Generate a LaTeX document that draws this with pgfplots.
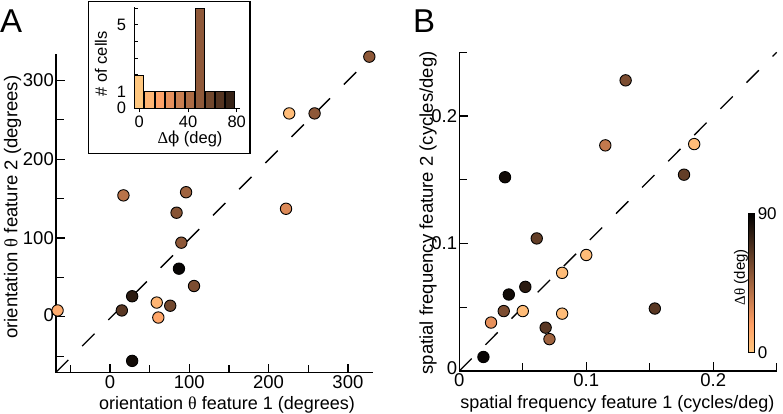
\documentclass[border=0pt]{standalone}
\usepackage{pgfplots}
\pgfplotsset{compat=1.18}
\usepackage{fontspec}
\setmainfont{Liberation Sans}
\newfontfamily\symf{Liberation Serif}
\newfontfamily\phif{DejaVu Serif}
\usetikzlibrary{calc}

\definecolor{b0}{rgb}{1,0.781,0.4975}
\definecolor{b1}{rgb}{1,0.709,0.452}
\definecolor{b2}{rgb}{1,0.637,0.406}
\definecolor{b3}{rgb}{0.904,0.565,0.360}
\definecolor{b4}{rgb}{0.789,0.493,0.314}
\definecolor{b5}{rgb}{0.674,0.421,0.268}
\definecolor{b6}{rgb}{0.559,0.349,0.222}
\definecolor{b7}{rgb}{0.4425,0.277,0.176}
\definecolor{b8}{rgb}{0.3275,0.205,0.130}
\definecolor{b9}{rgb}{0.2125,0.133,0.085}

\pgfplotsset{
  /pgf/number format/assume math mode=true,
  colormap={copperr}{rgb255(0cm)=(255,199,127); rgb255(2cm)=(255,159,101); rgb255(10cm)=(0,0,0)},
  mainstyle/.style={
    scale only axis,
    axis x line=bottom, axis y line=left,
    axis line style={-, line width=1.3pt},
    tick align=inside,
    major tick length=9pt, minor tick length=8pt,
    tick style={line width=1.2pt, black},
    tick label style={font=\fontsize{18.5}{20}\selectfont},
    yticklabel style={inner xsep=2pt},
    xticklabel style={inner ysep=0pt, yshift=-2.5pt},
    clip=false,
    point meta min=0, point meta max=90,
    colormap name=copperr,
  },
  pts/.style={scatter, only marks, mark=*, mark size=5.7pt, point meta=explicit,
    scatter/use mapped color={draw=black, fill=mapped color, line width=0.9pt}},
  diag/.style={black, line width=1.3pt, dash pattern=on 17.5pt off 19.5pt},
}

\pgfplotstableread{
x y c
327 330 50
226 258 5
258 258 50
17 154 38
96 158 45
84 132 52
222 137 28
90 94 50
87 61 88
106 39 55
28 26 78
59 18 8
76 14 58
15 8 65
-66 8 12
61 -1 15
28 -56 85
}\dataA

\pgfplotstableread{
x y c
0.131 0.228 55
0.115 0.177 35
0.185 0.178 5
0.177 0.154 62
0.036 0.152 85
0.061 0.104 62
0.100 0.091 5
0.081 0.077 5
0.052 0.066 78
0.039 0.060 85
0.035 0.047 55
0.050 0.047 5
0.081 0.045 5
0.154 0.049 65
0.025 0.038 25
0.068 0.034 65
0.071 0.025 45
0.019 0.011 88
}\dataB

\begin{document}
\begin{tikzpicture}
\path[use as bounding box] (0,0) rectangle (783pt,413pt);

% Panel A
\begin{axis}[mainstyle,
  at={(56pt,40.3pt)}, anchor=south west,
  width=317.3pt, height=318.4pt,
  xmin=-68, xmax=332, ymin=-71, ymax=333,
  xtick={0,100,200,300}, minor xtick={-50,50,150,250},
  ytick={0,100,200,300}, minor ytick={-50,50,150,250},
  yticklabels={\raisebox{3pt}{0},100,200,300},
  xlabel={orientation {\symf θ} feature 1 (degrees)},
  ylabel={orientation {\symf θ} feature 2 (degrees)},
  every axis x label/.style={at={(axis description cs:0.539,-0.114)}, anchor=base, inner sep=0pt, font=\fontsize{18}{20}\selectfont},
  every axis y label/.style={at={(axis description cs:-0.1365,0.52)}, anchor=center, rotate=90, font=\fontsize{18.5}{20}\selectfont},
]
\addplot[diag] coordinates {(-68,-70.5) (332,332)};
\addplot[pts] table[x=x, y=y, meta=c] {\dataA};
\end{axis}

% Inset frame
\draw[line width=1.3pt] (88.3pt,259.7pt) rectangle (250pt,411.3pt);

% Inset histogram
\begin{axis}[
  scale only axis,
  at={(134.3pt,304.7pt)}, anchor=south west,
  width=105.7pt, height=101pt,
  xmin=-4.1, xmax=82.7, ymin=0, ymax=6.06,
  axis x line=bottom, axis y line=left,
  axis line style={-, line width=1.1pt},
  tick align=inside,
  major tick length=4pt, minor tick length=4pt,
  tick style={line width=1pt, black},
  xtick={0,40,80}, ytick={0,1,5}, minor ytick={2,3,4,6},
  tick label style={font=\fontsize{16.5}{18}\selectfont},
  xticklabel style={inner ysep=3.4pt},
  yticklabel style={inner xsep=8pt},
  xlabel={{\symf Δ}{\phif ϕ} (deg)},
  ylabel={\# of cells},
  every axis x label/.style={at={(axis description cs:0.527,-0.345)}, anchor=base, font=\fontsize{16.5}{18}\selectfont},
  every axis y label/.style={at={(axis description cs:-0.315,0.44)}, anchor=center, rotate=90, font=\fontsize{16.5}{18}\selectfont},
  ybar, bar width=7.4, bar shift=0pt,
]
\addplot[draw=black, fill=b0, line width=0.8pt] coordinates {(0,2)};
\addplot[draw=black, fill=b1, line width=0.8pt] coordinates {(8.3,1)};
\addplot[draw=black, fill=b2, line width=0.8pt] coordinates {(16.6,1)};
\addplot[draw=black, fill=b3, line width=0.8pt] coordinates {(24.9,1)};
\addplot[draw=black, fill=b4, line width=0.8pt] coordinates {(33.2,1)};
\addplot[draw=black, fill=b5, line width=0.8pt] coordinates {(41.5,1)};
\addplot[draw=black, fill=b6, line width=0.8pt] coordinates {(49.8,6)};
\addplot[draw=black, fill=b7, line width=0.8pt] coordinates {(58.1,1)};
\addplot[draw=black, fill=b8, line width=0.8pt] coordinates {(66.4,1)};
\addplot[draw=black, fill=b9, line width=0.8pt] coordinates {(74.7,1)};
\end{axis}

% Panel B
\begin{axis}[mainstyle,
  at={(459.3pt,42pt)}, anchor=south west,
  width=317.4pt, height=318.7pt,
  xmin=0, xmax=0.25, ymin=0, ymax=0.25,
  xtick={0,0.1,0.2}, minor xtick={0.05,0.15,0.25},
  ytick={0,0.1,0.2}, minor ytick={0.05,0.15,0.25},
  yticklabels={\raisebox{6pt}{0},0.1,0.2},
  xlabel={spatial frequency feature 1 (cycles/deg)},
  ylabel={spatial frequency feature 2 (cycles/deg)},
  every axis x label/.style={at={(axis description cs:0.498,-0.119)}, anchor=base, inner sep=0pt, font=\fontsize{18}{20}\selectfont},
  every axis y label/.style={at={(axis description cs:-0.0986,0.496)}, anchor=center, rotate=90, font=\fontsize{18.5}{20}\selectfont},
  colorbar,
  colorbar style={
    at={($(parent axis.south west)+(280.7pt,18.7pt)$)}, anchor=south west,
    scale only axis, width=5.7pt, height=139pt,
    ytick={0,90},
    major tick length=1.5pt,
    tick style={black, line width=0.4pt},
    tick label style={font=\fontsize{17}{18}\selectfont},
    axis line style={line width=0.5pt},
    ylabel={{\symf Δθ} (deg)},
    every axis y label/.style={at={(axis description cs:0,0.54)}, xshift=-7.5pt, anchor=center, rotate=90, font=\fontsize{15}{16}\selectfont},
  },
]
\addplot[diag] coordinates {(0,0) (0.25,0.25)};
\addplot[pts] table[x=x, y=y, meta=c] {\dataB};
\end{axis}

\node[anchor=base west, inner sep=0, font=\fontsize{33}{33}\selectfont] at (0pt,380pt) {A};
\node[anchor=base west, inner sep=0, font=\fontsize{33}{33}\selectfont] at (413pt,380pt) {B};
\end{tikzpicture}
\end{document}
